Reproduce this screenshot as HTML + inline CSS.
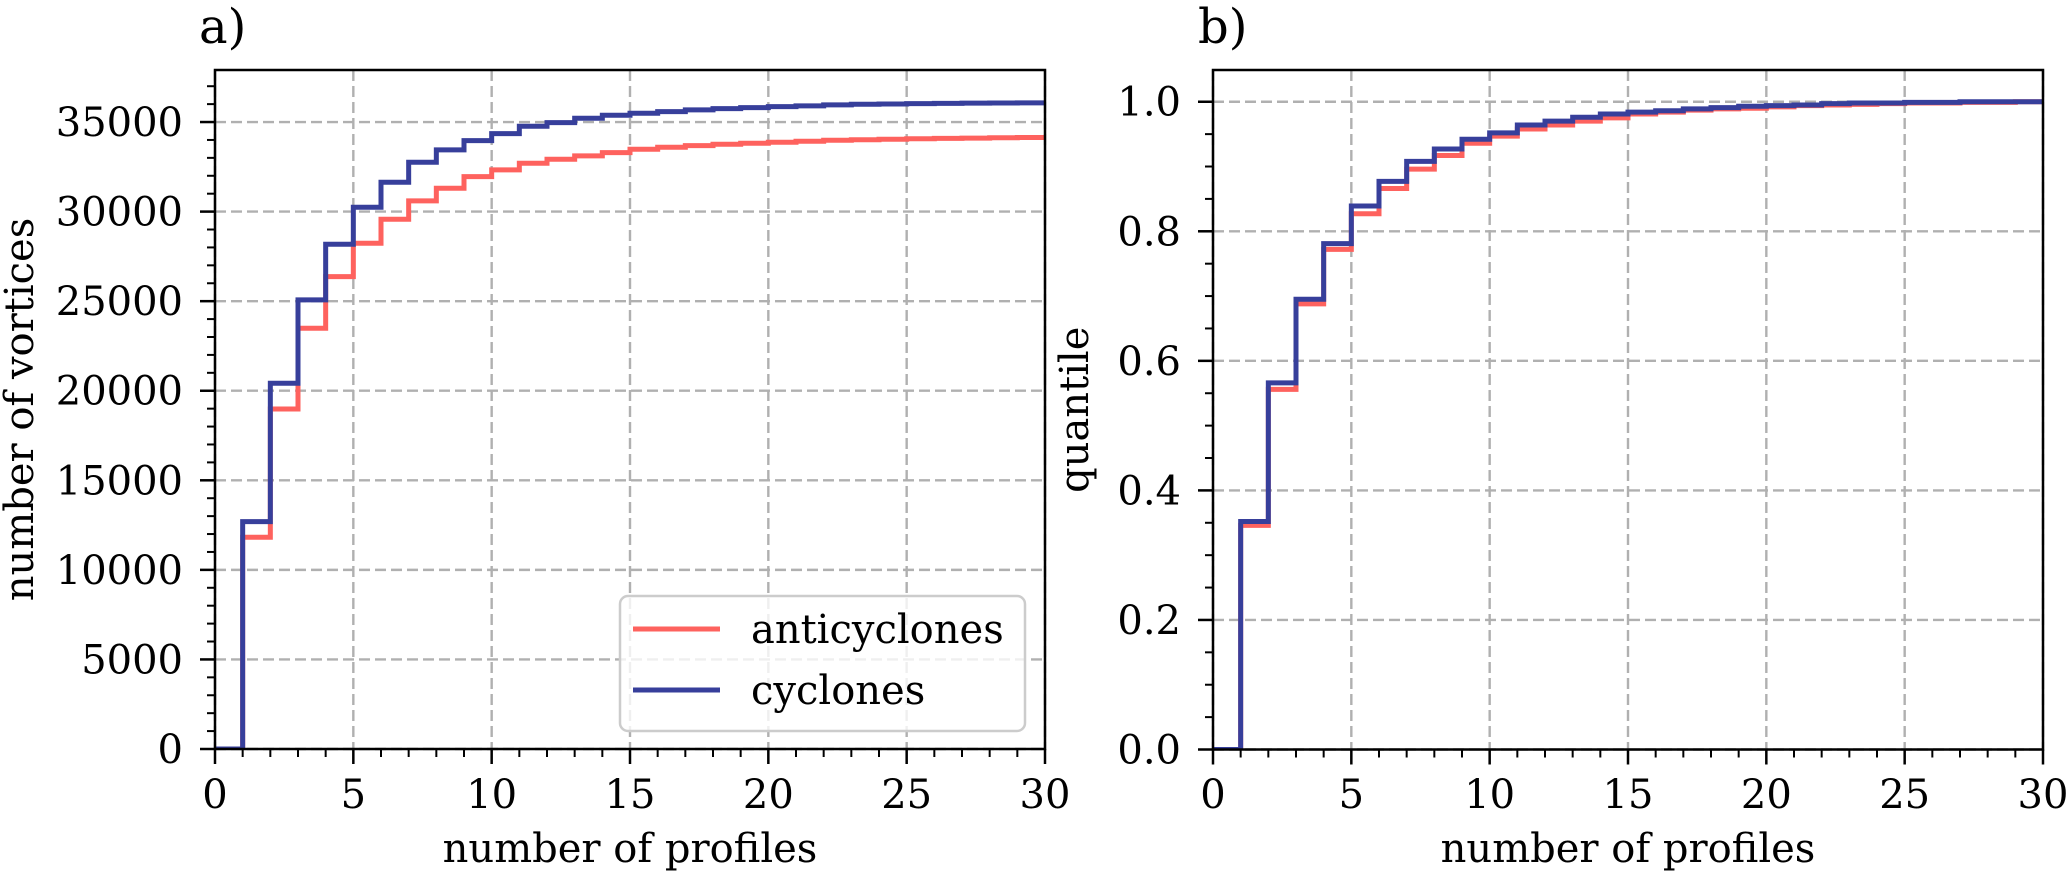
<!DOCTYPE html>
<html><head><meta charset="utf-8"><style>
html,body{margin:0;padding:0;background:#fff;}
svg{display:block;font-family:"DejaVu Serif","Liberation Serif",serif;}
</style></head><body>
<svg id="fig" width="2067" height="874" viewBox="0 0 2067 874" xmlns="http://www.w3.org/2000/svg"></svg>
<script>
// bins start at 0,1,...,29 (step post)
const binEdges = [0,1,2,3,4,5,6,7,8,9,10,11,12,13,14,15,16,17,18,19,20,21,22,23,24,25,26,27,28,29];
const antiCounts = [0,11820,18980,23490,26370,28235,29575,30597,31305,31955,32330,32700,32922,33110,33295,33480,33590,33685,33760,33815,33870,33925,33980,34010,34040,34065,34085,34105,34120,34140];
const cycCounts  = [0,12690,20420,25070,28180,30245,31640,32757,33445,33965,34355,34767,34970,35214,35382,35494,35583,35678,35750,35807,35862,35900,35958,35990,36010,36030,36045,36055,36065,36070];
const antiQuant = [0,0.346,0.556,0.688,0.772,0.827,0.866,0.896,0.917,0.936,0.947,0.958,0.964,0.970,0.975,0.981,0.984,0.987,0.989,0.990,0.992,0.994,0.995,0.996,0.997,0.998,0.998,0.999,0.999,1.0];
const cycQuant  = [0,0.352,0.566,0.695,0.781,0.839,0.877,0.908,0.927,0.942,0.952,0.964,0.970,0.976,0.981,0.984,0.986,0.989,0.991,0.993,0.994,0.995,0.997,0.998,0.998,0.999,0.999,1.0,1.0,1.0];
const xTicks = [0,5,10,15,20,25,30];
const yTicksA = [0,5000,10000,15000,20000,25000,30000,35000];
const yTicksB = [0,0.2,0.4,0.6,0.8,1.0];
const yTickLabelsB = ["0.0","0.2","0.4","0.6","0.8","1.0"];

const NS="http://www.w3.org/2000/svg";
const svg=document.getElementById('fig');
function mk(tag,attrs,parent){const e=document.createElementNS(NS,tag);for(const k in attrs)e.setAttribute(k,attrs[k]);(parent||svg).appendChild(e);return e;}
const RED="#fe625e", BLUE="#373f9b";

function panel(o){
  const g=mk('g',{});
  
  
  const X=v=>o.L+(v-0)/(30-0)*(o.R-o.L);
  const Y=v=>o.B-(v-0)/(o.ymax-0)*(o.B-o.T);
  const cid='clip-'+o.name;
  const cp=mk('clipPath',{id:cid},g); mk('rect',{x:o.L,y:o.T,width:o.R-o.L,height:o.B-o.T},cp);
  // grid
  xTicks.forEach(t=>{const l=mk('line',{x1:X(t),x2:X(t),y1:o.T,y2:o.B,stroke:'#b0b0b0','stroke-width':2.4,'stroke-dasharray':'11,5'},g);
    });
  o.yt.forEach(t=>{const l=mk('line',{x1:o.L,x2:o.R,y1:Y(t),y2:Y(t),stroke:'#b0b0b0','stroke-width':2.4,'stroke-dasharray':'11,5'},g);
    });
  // series
  o.series.forEach(s=>{
    let d='M'+X(binEdges[0])+','+Y(0);
    s.vals.forEach((v,i)=>{d+=' L'+X(binEdges[i])+','+Y(v)+' L'+X(binEdges[i]+1)+','+Y(v);});
    const p=mk('path',{d:d,fill:'none',stroke:s.color,'stroke-width':5,'stroke-linejoin':'miter','clip-path':'url(#'+cid+')'},g);
    
  });
  // frame
  const f=mk('rect',{x:o.L,y:o.T,width:o.R-o.L,height:o.B-o.T,fill:'none',stroke:'#000','stroke-width':2.5},g);
  
  // x ticks
  for(let m=0;m<=30;m++){const major=m%5===0;mk('line',{x1:X(m),x2:X(m),y1:o.B,y2:o.B+(major?15:8),stroke:'#000','stroke-width':major?2.5:2},g);}
  xTicks.forEach(t=>{const tx=mk('text',{x:X(t),y:808,'font-size':40,'text-anchor':'middle'},g);tx.textContent=String(t);
    });
  // y ticks
  for(let v=0;v<=o.ymax+1e-9;v+=o.minor){const isMaj=o.yt.some(t=>Math.abs(t-v)<o.minor/10);
    mk('line',{x1:o.L,x2:o.L-(isMaj?15:8),y1:Y(v),y2:Y(v),stroke:'#000','stroke-width':isMaj?2.5:2},g);}
  o.yt.forEach((t,i)=>{const tx=mk('text',{x:o.L-32,y:Y(t)+14,'font-size':40,'text-anchor':'end'},g);tx.textContent=o.ytl[i];
    });
  // labels
  const xl=mk('text',{x:(o.L+o.R)/2,y:862,'font-size':40,'text-anchor':'middle'},g);xl.textContent='number of profiles';
  
  const yl=mk('text',{x:0,y:0,'font-size':40,'text-anchor':'middle',transform:'translate('+o.ylx+','+((o.T+o.B)/2)+') rotate(-90)'},g);yl.textContent=o.ylabel;
  
  const ti=mk('text',{x:o.tx,y:43,'font-size':48},g);ti.textContent=o.title;
  
  return g;
}
panel({name:'panel-a',L:215,R:1045,T:70,B:749,ymax:37905,yt:yTicksA,ytl:yTicksA.map(String),minor:1000,
  ylabel:'number of vortices',ylx:33,title:'a)',tx:199,
  series:[{name:'anticyclones-line',vals:antiCounts,color:RED},{name:'cyclones-line',vals:cycCounts,color:BLUE}]});
panel({name:'panel-b',L:1213,R:2043,T:70,B:749.5,ymax:1.049,yt:yTicksB,ytl:yTickLabelsB,minor:0.05,
  ylabel:'quantile',ylx:1088,title:'b)',tx:1198,
  series:[{name:'anticyclones-quantile-line',vals:antiQuant,color:RED},{name:'cyclones-quantile-line',vals:cycQuant,color:BLUE}]});
// legend
const lg=mk('g',{});


mk('rect',{x:620,y:596,width:405,height:135,rx:8,fill:'rgba(255,255,255,0.8)',stroke:'#cccccc','stroke-width':2.5},lg);
[[629,'anticyclones',RED],[690,'cyclones',BLUE]].forEach(e=>{
  const it=mk('g',{},lg);
  
  
  mk('line',{x1:633,x2:720,y1:e[0],y2:e[0],stroke:e[2],'stroke-width':5},it);
  const t=mk('text',{x:751,y:e[0]+14,'font-size':40},it);t.textContent=e[1];
});
</script>
</body></html>
